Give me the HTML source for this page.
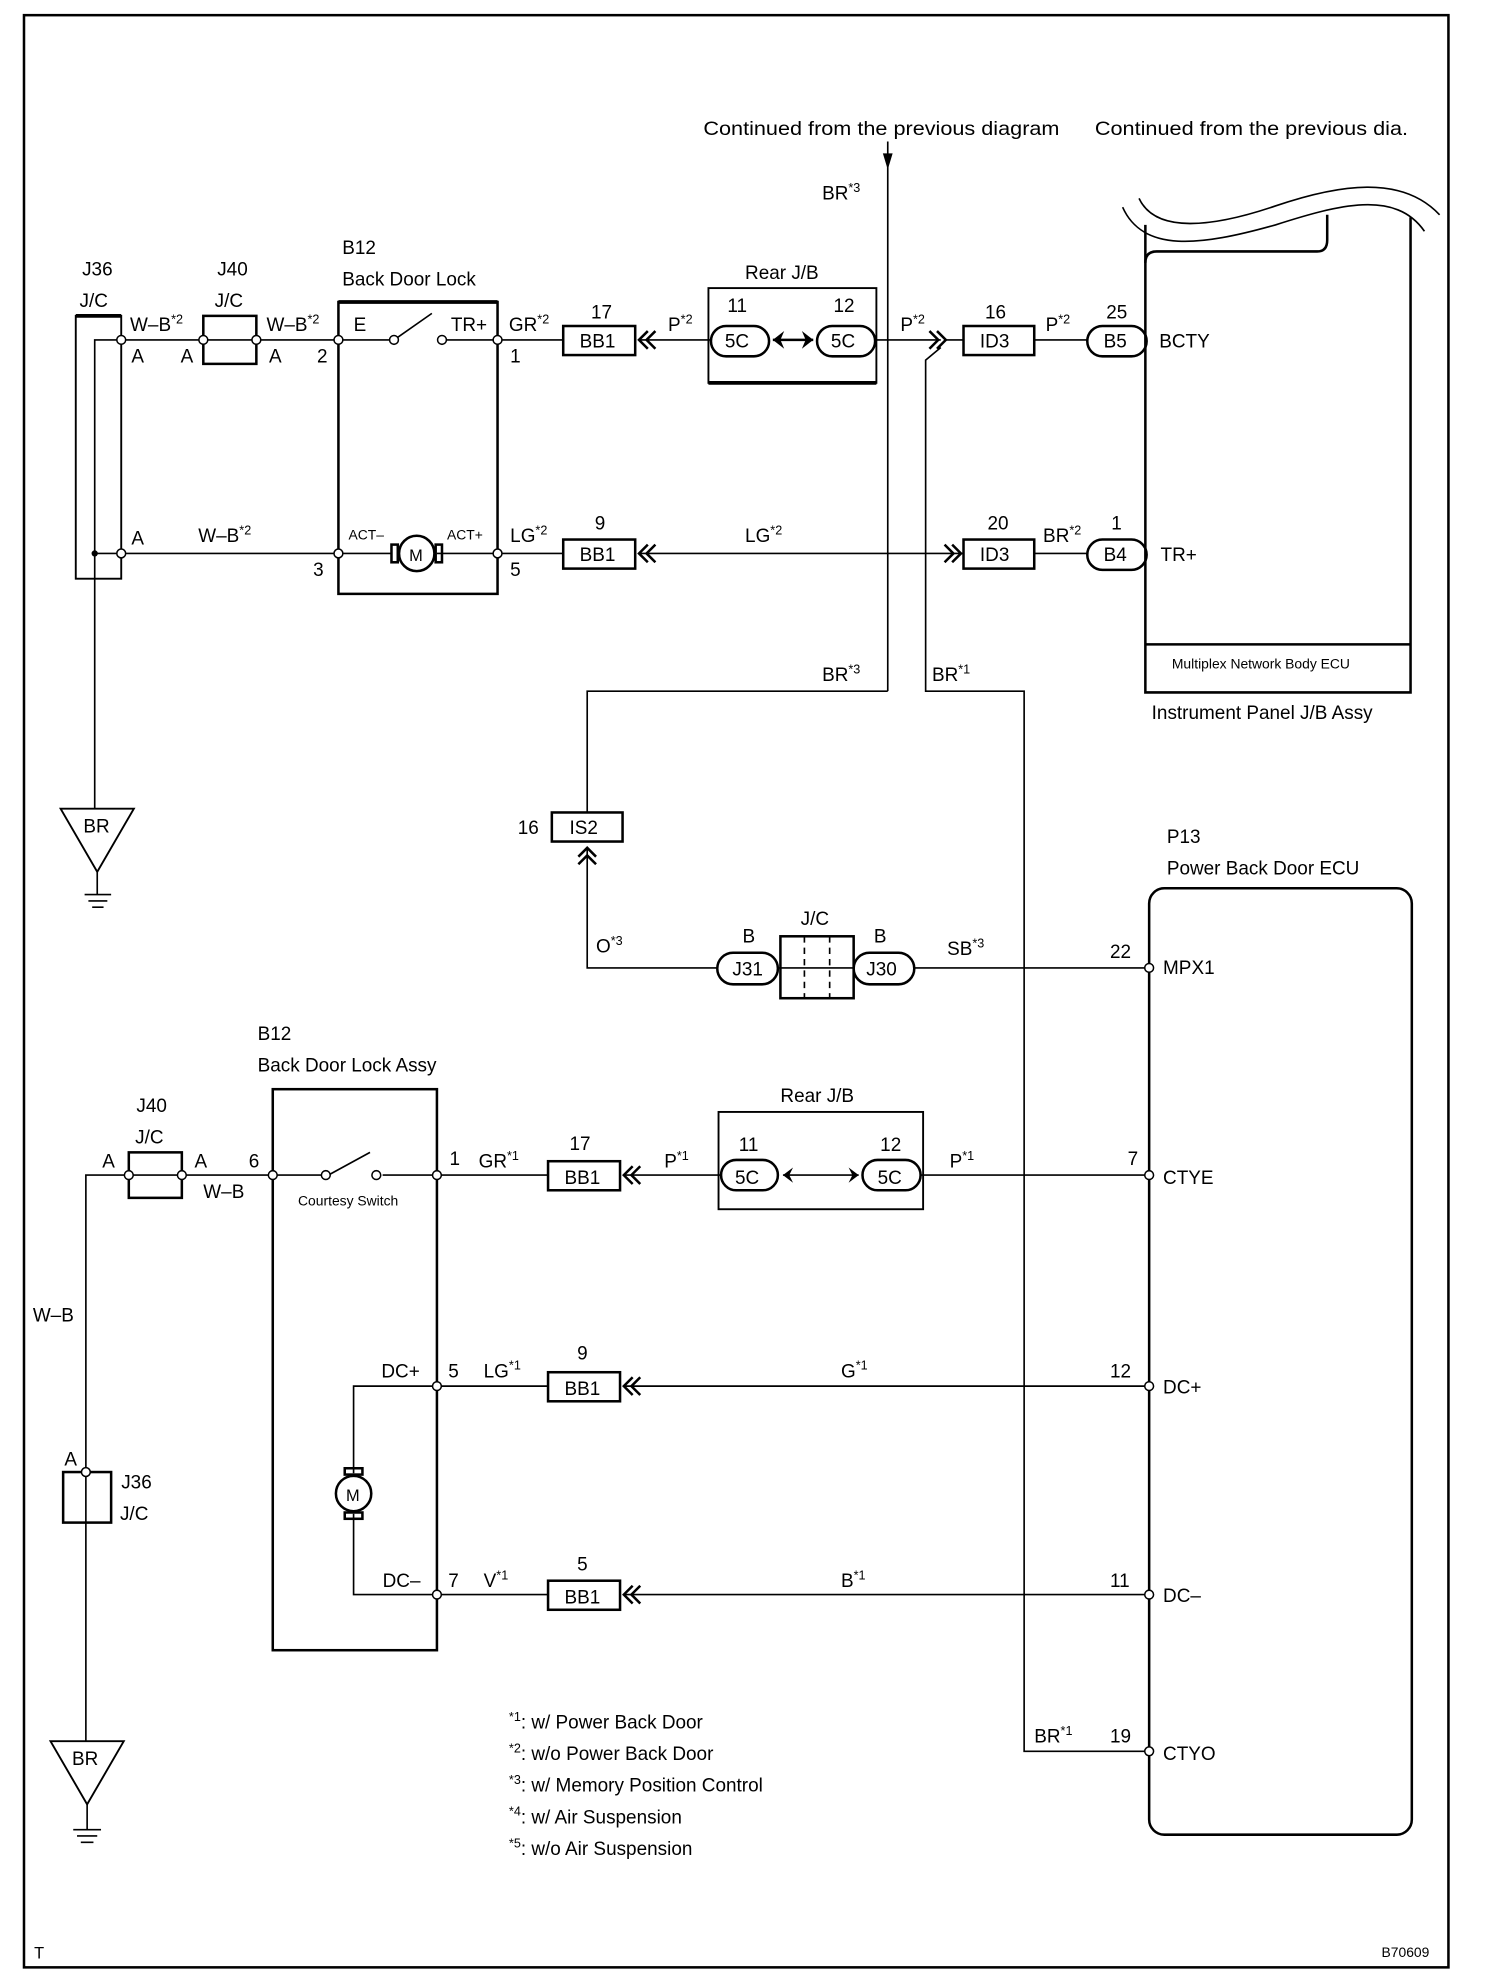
<!DOCTYPE html>
<html><head><meta charset="utf-8"><style>
html,body{margin:0;padding:0;background:#fff;}
svg{display:block;}
text{font-family:"Liberation Sans",sans-serif;font-size:15px;fill:#000;}
.s{font-size:11px;}
.sup{font-size:10px;}
</style></head><body>
<svg width="1504" height="1980" viewBox="0 0 1191 1567" preserveAspectRatio="none" xmlns="http://www.w3.org/2000/svg">
<g fill="none" stroke="#000" stroke-width="1.3">
<rect x="19" y="12" width="1128" height="1545" stroke-width="2"/>
<line x1="703" y1="112" x2="703" y2="547"/>
<path d="M700,122 L703,132 L706,122 Z" fill="#000"/>
<path d="M907,178 L907,548 L1117,548 L1117,172" stroke-width="2"/>
<path d="M907,208 Q907,199 916,199 L1043,199 Q1051,199 1051,190 L1051,170" stroke-width="2"/>
<line x1="907" y1="510" x2="1117" y2="510" stroke-width="2"/>
<path d="M889,164 C905,200 950,195 1010,178 C1060,162 1105,150 1128,183"/>
<path d="M902,157 C915,185 960,180 1010,163 C1060,146 1110,138 1140,170"/>
<rect x="60" y="250" width="36" height="208" stroke-width="1.5"/>
<line x1="60" y1="250" x2="96" y2="250" stroke-width="3"/>
<path d="M75,640 L75,269 L96,269"/>
<line x1="96" y1="269" x2="161" y2="269"/>
<line x1="75" y1="438" x2="268" y2="438"/>
<path d="M161,250 L203,250 L203,288 L161,288 Z" stroke-width="2"/>
<line x1="161" y1="269" x2="268" y2="269"/>
<path d="M268,470 L268,239 L394,239 L394,470 Z" stroke-width="2"/>
<line x1="394" y1="239" x2="268" y2="239" stroke-width="3"/>
<path d="M268,269 L312,269 M312,269 L342,248 M350,269 L394,269"/>
<line x1="268" y1="438" x2="310" y2="438"/>
<line x1="346" y1="438" x2="394" y2="438"/>
<circle cx="330" cy="438" r="14" stroke-width="2"/>
<rect x="310" y="431" width="5" height="14" stroke-width="2"/>
<rect x="345" y="431" width="5" height="14" stroke-width="2"/>
<line x1="394" y1="269" x2="446" y2="269"/>
<rect x="446" y="258" width="57" height="23" stroke-width="2"/>
<line x1="507" y1="269" x2="563" y2="269"/>
<path d="M513,262 L506,269 L513,276 M519,262 L512,269 L519,276" stroke-width="2"/>
<rect x="561" y="228" width="133" height="75" stroke-width="1.5"/>
<line x1="561" y1="303" x2="694" y2="303" stroke-width="3"/>
<rect x="563" y="258" width="46" height="24" rx="12" stroke-width="2"/>
<rect x="647" y="258" width="46" height="24" rx="12" stroke-width="2"/>
<line x1="612" y1="269" x2="644" y2="269" stroke-width="2"/>
<line x1="693" y1="269" x2="745" y2="269"/>
<path d="M736,262 L743,269 L736,276 M742,262 L749,269 L742,276" stroke-width="2"/>
<rect x="763" y="258" width="56" height="23" stroke-width="2"/>
<line x1="749" y1="269" x2="763" y2="269"/>
<line x1="819" y1="269" x2="861" y2="269"/>
<rect x="861" y="258" width="47" height="24" rx="12" stroke-width="2"/>
<line x1="394" y1="438" x2="446" y2="438"/>
<rect x="446" y="427" width="57" height="23" stroke-width="2"/>
<path d="M513,431 L506,438 L513,445 M519,431 L512,438 L519,445" stroke-width="2"/>
<line x1="507" y1="438" x2="763" y2="438"/>
<path d="M748,431 L755,438 L748,445 M754,431 L761,438 L754,445" stroke-width="2"/>
<rect x="763" y="427" width="56" height="23" stroke-width="2"/>
<line x1="819" y1="438" x2="861" y2="438"/>
<rect x="861" y="427" width="47" height="24" rx="12" stroke-width="2"/>
<path d="M745,275 L733,285 L733,547 L811,547 L811,1386 L910,1386"/>
<path d="M703,547 L465,547 L465,643"/>
<rect x="437" y="643" width="56" height="23" stroke-width="2"/>
<path d="M458,678 L465,671 L472,678 M458,684 L465,677 L472,684" stroke-width="2"/>
<path d="M465,671 L465,766 L568,766"/>
<rect x="568" y="754" width="48" height="25" rx="12.5" stroke-width="2"/>
<rect x="618" y="741" width="58" height="49" stroke-width="2"/>
<line x1="616" y1="766" x2="676" y2="766"/>
<line x1="637" y1="741" x2="637" y2="790" stroke-dasharray="5,4"/>
<line x1="657" y1="741" x2="657" y2="790" stroke-dasharray="5,4"/>
<rect x="676" y="754" width="48" height="25" rx="12.5" stroke-width="2"/>
<line x1="724" y1="766" x2="910" y2="766"/>
<path d="M48,640 L106,640 L77,690 Z" stroke-width="1.5"/>
<path d="M77,690 L77,708 M67,708 L88,708 M70,713 L85,713 M73,718 L82,718"/>
<rect x="910" y="703" width="208" height="749" rx="12" stroke-width="2"/>
<path d="M68,1378 L68,930 L102,930"/>
<rect x="102" y="912" width="42" height="36" stroke-width="2"/>
<line x1="102" y1="930" x2="216" y2="930"/>
<rect x="50" y="1165" width="38" height="40" stroke-width="2"/>
<rect x="216" y="862" width="130" height="444" stroke-width="2"/>
<path d="M216,930 L258,930 M260,930 L293,912 M303,930 L346,930"/>
<line x1="346" y1="930" x2="434" y2="930"/>
<rect x="434" y="919" width="57" height="23" stroke-width="2"/>
<path d="M501,923 L494,930 L501,937 M507,923 L500,930 L507,937" stroke-width="2"/>
<line x1="495" y1="930" x2="571" y2="930"/>
<rect x="569" y="880" width="162" height="77" stroke-width="1.5"/>
<rect x="571" y="918" width="45" height="24" rx="12" stroke-width="2"/>
<rect x="683" y="918" width="46" height="24" rx="12" stroke-width="2"/>
<line x1="620" y1="930" x2="680" y2="930"/>
<line x1="729" y1="930" x2="910" y2="930"/>
<path d="M346,1097 L280,1097 L280,1166 M280,1198 L280,1262 L346,1262"/>
<circle cx="280" cy="1182" r="14" stroke-width="2"/>
<rect x="273" y="1162" width="14" height="5" stroke-width="2"/>
<rect x="273" y="1197" width="14" height="5" stroke-width="2"/>
<line x1="346" y1="1097" x2="434" y2="1097"/>
<rect x="434" y="1086" width="57" height="23" stroke-width="2"/>
<path d="M501,1090 L494,1097 L501,1104 M507,1090 L500,1097 L507,1104" stroke-width="2"/>
<line x1="495" y1="1097" x2="910" y2="1097"/>
<line x1="346" y1="1262" x2="434" y2="1262"/>
<rect x="434" y="1251" width="57" height="23" stroke-width="2"/>
<path d="M501,1255 L494,1262 L501,1269 M507,1255 L500,1262 L507,1269" stroke-width="2"/>
<line x1="495" y1="1262" x2="910" y2="1262"/>
<path d="M40,1378 L98,1378 L69,1428 Z" stroke-width="1.5"/>
<path d="M69,1428 L69,1448 M58,1448 L80,1448 M61,1453 L77,1453 M64,1458 L74,1458"/>
</g>
<g fill="#000">
<path d="M612,269 L621,262 L618,269 L621,276 Z"/>
<path d="M644,269 L635,262 L638,269 L635,276 Z"/>
<path d="M620,930 L628,924 L625,930 L628,936 Z"/>
<path d="M680,930 L672,924 L675,930 L672,936 Z"/>
<circle cx="75" cy="438" r="2.5"/>
</g>
<g fill="#fff" stroke="#000" stroke-width="1.2">
<circle cx="96" cy="269" r="3.5"/><circle cx="161" cy="269" r="3.5"/><circle cx="203" cy="269" r="3.5"/>
<circle cx="268" cy="269" r="3.5"/><circle cx="312" cy="269" r="3.5"/><circle cx="350" cy="269" r="3.5"/><circle cx="394" cy="269" r="3.5"/>
<circle cx="96" cy="438" r="3.5"/><circle cx="268" cy="438" r="3.5"/><circle cx="394" cy="438" r="3.5"/>
<circle cx="910" cy="766" r="3.5"/>
<circle cx="102" cy="930" r="3.5"/><circle cx="144" cy="930" r="3.5"/><circle cx="216" cy="930" r="3.5"/>
<circle cx="258" cy="930" r="3.5"/><circle cx="298" cy="930" r="3.5"/><circle cx="346" cy="930" r="3.5"/>
<circle cx="910" cy="930" r="3.5"/>
<circle cx="346" cy="1097" r="3.5"/><circle cx="910" cy="1097" r="3.5"/>
<circle cx="346" cy="1262" r="3.5"/><circle cx="910" cy="1262" r="3.5"/>
<circle cx="910" cy="1386" r="3.5"/><circle cx="68" cy="1165" r="3.5"/>
</g>
<g>
<text x="557" y="107" textLength="282" lengthAdjust="spacingAndGlyphs">Continued from the previous diagram</text>
<text x="867" y="107" textLength="248" lengthAdjust="spacingAndGlyphs">Continued from the previous dia.</text>
<text x="651" y="158">BR<tspan class="sup" dy="-6">*3</tspan></text>
<text x="65" y="218">J36</text><text x="63" y="243">J/C</text>
<text x="172" y="218">J40</text><text x="170" y="243">J/C</text>
<text x="271" y="201">B12</text><text x="271" y="226">Back Door Lock</text>
<text x="103" y="262">W–B<tspan class="sup" dy="-6">*2</tspan></text>
<text x="211" y="262">W–B<tspan class="sup" dy="-6">*2</tspan></text>
<text x="104" y="287">A</text><text x="143" y="287">A</text><text x="213" y="287">A</text>
<text x="251" y="287">2</text><text x="280" y="262">E</text><text x="357" y="262">TR+</text>
<text x="404" y="287">1</text>
<text x="403" y="262">GR<tspan class="sup" dy="-6">*2</tspan></text>
<text x="468" y="252">17</text><text x="459" y="275">BB1</text>
<text x="529" y="262">P<tspan class="sup" dy="-6">*2</tspan></text>
<text x="590" y="221">Rear J/B</text>
<text x="576" y="247">11</text><text x="660" y="247">12</text>
<text x="574" y="275">5C</text><text x="658" y="275">5C</text>
<text x="713" y="262">P<tspan class="sup" dy="-6">*2</tspan></text>
<text x="780" y="252">16</text><text x="776" y="275">ID3</text>
<text x="828" y="262">P<tspan class="sup" dy="-6">*2</tspan></text>
<text x="876" y="252">25</text><text x="874" y="275">B5</text>
<text x="918" y="275">BCTY</text>
<text x="104" y="431">A</text>
<text x="157" y="429">W–B<tspan class="sup" dy="-6">*2</tspan></text>
<text x="248" y="456">3</text>
<text class="s" x="276" y="427">ACT–</text><text class="s" x="354" y="427">ACT+</text>
<text x="324" y="444" style="font-size:13px">M</text>
<text x="404" y="456">5</text>
<text x="404" y="429">LG<tspan class="sup" dy="-6">*2</tspan></text>
<text x="471" y="419">9</text><text x="459" y="444">BB1</text>
<text x="590" y="429">LG<tspan class="sup" dy="-6">*2</tspan></text>
<text x="782" y="419">20</text><text x="776" y="444">ID3</text>
<text x="826" y="429">BR<tspan class="sup" dy="-6">*2</tspan></text>
<text x="880" y="419">1</text><text x="874" y="444">B4</text>
<text x="919" y="444">TR+</text>
<text class="s" x="928" y="529">Multiplex Network Body ECU</text>
<text x="912" y="569">Instrument Panel J/B Assy</text>
<text x="651" y="539">BR<tspan class="sup" dy="-6">*3</tspan></text>
<text x="738" y="539">BR<tspan class="sup" dy="-6">*1</tspan></text>
<text x="66" y="659">BR</text>
<text x="410" y="660">16</text><text x="451" y="660">IS2</text>
<text x="924" y="667">P13</text><text x="924" y="692">Power Back Door ECU</text>
<text x="634" y="732">J/C</text>
<text x="588" y="746">B</text><text x="692" y="746">B</text>
<text x="472" y="754">O<tspan class="sup" dy="-6">*3</tspan></text>
<text x="580" y="772">J31</text><text x="686" y="772">J30</text>
<text x="750" y="756">SB<tspan class="sup" dy="-6">*3</tspan></text>
<text x="879" y="758">22</text><text x="921" y="771">MPX1</text>
<text x="204" y="823">B12</text><text x="204" y="848">Back Door Lock Assy</text>
<text x="108" y="880">J40</text><text x="107" y="905">J/C</text>
<text x="81" y="924">A</text><text x="154" y="924">A</text><text x="197" y="924">6</text>
<text x="161" y="948">W–B</text>
<text class="s" x="236" y="954">Courtesy  Switch</text>
<text x="356" y="922">1</text>
<text x="379" y="924">GR<tspan class="sup" dy="-6">*1</tspan></text>
<text x="451" y="910">17</text><text x="447" y="937">BB1</text>
<text x="526" y="924">P<tspan class="sup" dy="-6">*1</tspan></text>
<text x="618" y="872">Rear J/B</text>
<text x="585" y="911">11</text><text x="697" y="911">12</text>
<text x="582" y="937">5C</text><text x="695" y="937">5C</text>
<text x="752" y="924">P<tspan class="sup" dy="-6">*1</tspan></text>
<text x="893" y="922">7</text><text x="921" y="937">CTYE</text>
<text x="26" y="1046">W–B</text>
<text x="302" y="1090">DC+</text><text x="355" y="1090">5</text>
<text x="383" y="1090">LG<tspan class="sup" dy="-6">*1</tspan></text>
<text x="457" y="1076">9</text><text x="447" y="1104">BB1</text>
<text x="666" y="1090">G<tspan class="sup" dy="-6">*1</tspan></text>
<text x="879" y="1090">12</text><text x="921" y="1103">DC+</text>
<text x="51" y="1160">A</text>
<text x="96" y="1178">J36</text><text x="95" y="1203">J/C</text>
<text x="274" y="1188" style="font-size:13px">M</text>
<text x="303" y="1256">DC–</text><text x="355" y="1256">7</text>
<text x="383" y="1256">V<tspan class="sup" dy="-6">*1</tspan></text>
<text x="457" y="1243">5</text><text x="447" y="1269">BB1</text>
<text x="666" y="1256">B<tspan class="sup" dy="-6">*1</tspan></text>
<text x="879" y="1256">11</text><text x="921" y="1268">DC–</text>
<text x="819" y="1379">BR<tspan class="sup" dy="-6">*1</tspan></text>
<text x="879" y="1379">19</text><text x="921" y="1393">CTYO</text>
<text x="57" y="1397">BR</text>
<text x="403" y="1368"><tspan class="sup" dy="-6">*1</tspan><tspan dy="6">: w/ Power Back Door</tspan></text>
<text x="403" y="1393"><tspan class="sup" dy="-6">*2</tspan><tspan dy="6">: w/o Power Back Door</tspan></text>
<text x="403" y="1418"><tspan class="sup" dy="-6">*3</tspan><tspan dy="6">: w/ Memory Position Control</tspan></text>
<text x="403" y="1443"><tspan class="sup" dy="-6">*4</tspan><tspan dy="6">: w/ Air Suspension</tspan></text>
<text x="403" y="1468"><tspan class="sup" dy="-6">*5</tspan><tspan dy="6">: w/o Air Suspension</tspan></text>
<text x="27" y="1550" style="font-size:13px">T</text>
<text class="s" x="1094" y="1549">B70609</text>
</g>
</svg>
</body></html>
